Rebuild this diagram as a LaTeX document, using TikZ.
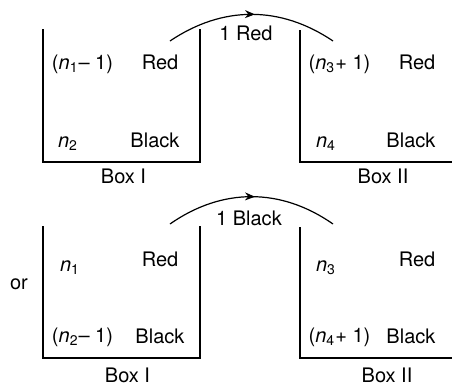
\documentclass[tikz,border=0pt]{standalone}
\usepackage{fontspec}
\setmainfont{TeX Gyre Heros}
\usetikzlibrary{arrows.meta,decorations.markings}

\tikzset{
  wall/.style={line width=0.6pt},
  lbl/.style={anchor=base, inner sep=0pt, font=\fontsize{10}{12}\selectfont},
  move/.style={line width=0.6pt, postaction={decorate},
    decoration={markings, mark=at position 0.52 with {\arrow{Stealth[length=5pt,width=4pt]}}}},
}
\newcommand{\nsub}[1]{\textit{n}\textsubscript{#1}}

\begin{document}
\begin{tikzpicture}[x=0.5pt, y=0.5pt, >=Stealth]
\useasboundingbox (0,0) rectangle (452,388);
% one red ball moves
\draw[wall] (43,359) -- (43,226) -- (200,226) -- (200,359);
\draw[wall] (300,358) -- (300,226) -- (452,226);
\coordinate (redA) at (170,347);
\coordinate (redB) at (333,347);
\draw[move] (redA) to[bend left=34] (redB);
\node[lbl] (moveR) at (246,348) {1 Red};
\node[lbl] (aRn) at (82.5,319) {(\nsub{1}– 1)};
\node[lbl] (aR) at (160,319) {Red};
\node[lbl] (aBn) at (68,241) {\nsub{2}};
\node[lbl] (aB) at (155,241) {Black};
\node[lbl] (aBox) at (123.5,205) {Box I};
\node[lbl] (bRn) at (339.5,319) {(\nsub{3}+ 1)};
\node[lbl] (bR) at (417,319) {Red};
\node[lbl] (bBn) at (326,241) {\nsub{4}};
\node[lbl] (bB) at (411,241) {Black};
\node[lbl] (bBox) at (383,205) {Box II};

% one black ball moves
\draw[wall] (43,162) -- (43,30) -- (200,30) -- (200,162);
\draw[wall] (300,161) -- (300,30) -- (452,30);
\coordinate (blkA) at (170,164);
\coordinate (blkB) at (333,164);
\draw[move] (blkA) to[bend left=35] (blkB);
\node[lbl] (moveB) at (249,163) {1 Black};
\node[lbl] (orr) at (19,99) {or};
\node[lbl] (cRn) at (70,117) {\nsub{1}};
\node[lbl] (cR) at (160,122) {Red};
\node[lbl] (cBn) at (82.5,46) {(\nsub{2}– 1)};
\node[lbl] (cB) at (160,45) {Black};
\node[lbl] (cBox) at (127.5,6) {Box I};
\node[lbl] (dRn) at (326,117) {\nsub{3}};
\node[lbl] (dR) at (417,122) {Red};
\node[lbl] (dBn) at (339.5,46) {(\nsub{4}+ 1)};
\node[lbl] (dB) at (411,45) {Black};
\node[lbl] (dBox) at (387,6) {Box II};
\end{tikzpicture}
\end{document}
